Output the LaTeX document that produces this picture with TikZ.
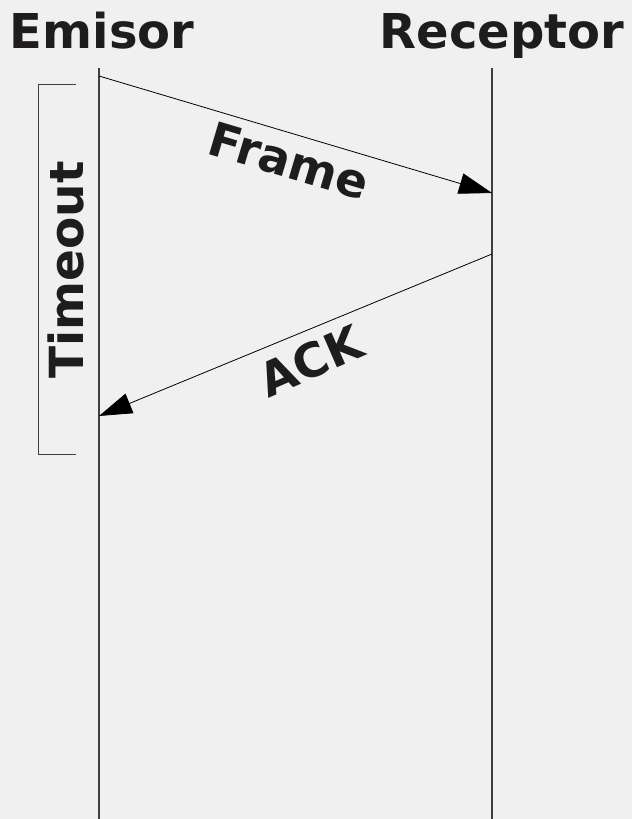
\documentclass[tikz,border=0pt]{standalone}
\usepackage{fontspec}
\setmainfont{DejaVu Sans}
\usetikzlibrary{arrows.meta}
\definecolor{bg}{RGB}{240,240,240}
\definecolor{ink}{RGB}{30,28,28}
\tikzset{
  title/.style={font=\fontsize{48}{48}\selectfont\bfseries, text=ink, inner sep=0pt},
  lbl/.style={font=\fontsize{47}{47}\selectfont\bfseries, text=ink, inner sep=0pt},
  life/.style={draw=black!75, line width=1.3pt},
  msg/.style={draw=black, line width=0.8pt, -{Triangle[length=33pt,width=21pt]}},
  brk/.style={draw=black!75, line width=1pt}
}
\begin{document}
\begin{tikzpicture}[x=1pt,y=-1pt]
\fill[bg] (0,0) rectangle (632,819);
\useasboundingbox (0,0) rectangle (632,819);
\node[title, anchor=base] (em) at (102,48) {Emisor};
\node[title, anchor=base] (re) at (502,48) {Receptor};
\coordinate (et) at (99,68);
\coordinate (eb) at (99,819);
\coordinate (rt) at (492,68);
\coordinate (rb) at (492,819);
\draw[life] (et) -- (eb);
\draw[life] (rt) -- (rb);
\coordinate (f1) at (99,76);
\coordinate (f2) at (492,193);
\coordinate (a1) at (492,254);
\coordinate (a2) at (99,416);
\draw[msg] (f1) -- (f2);
\draw[msg] (a1) -- (a2);
\node[lbl, rotate=-16.6] (fr) at (289,161) {Frame};
\node[lbl, rotate=23.5] (ack) at (311,361) {ACK};
\coordinate (b1) at (76,84);
\coordinate (b2) at (38,84);
\coordinate (b3) at (38,454);
\coordinate (b4) at (76,454);
\draw[brk] (b1) -- (b2) -- (b3) -- (b4);
\node[lbl, rotate=90, anchor=base] (to) at (83.5,270) {Timeout};
\end{tikzpicture}
\end{document}
